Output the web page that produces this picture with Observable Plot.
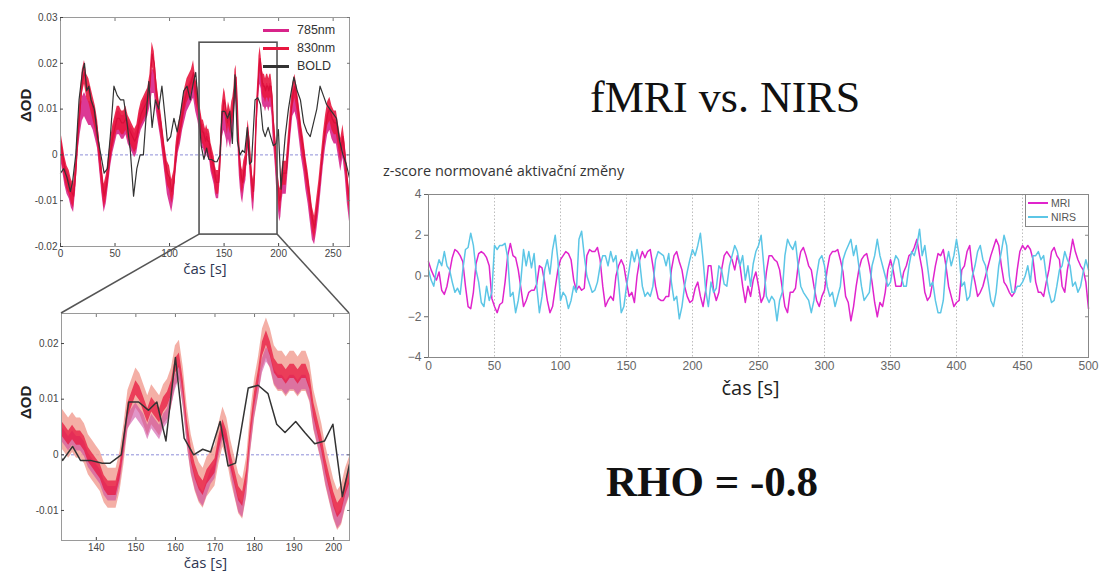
<!DOCTYPE html>
<html><head><meta charset="utf-8">
<script src="https://cdn.jsdelivr.net/npm/d3@7"></script>
<script src="https://cdn.jsdelivr.net/npm/@observablehq/plot@0.6"></script>
<style>
html,body{margin:0;padding:0;background:#fff;}
body{width:1099px;height:576px;position:relative;overflow:hidden;font-family:"Liberation Sans",Arial,sans-serif;}
.abs{position:absolute;}
.leg{position:absolute;display:flex;align-items:center;white-space:nowrap;}
.leg span.sw{display:inline-block;}
</style></head>
<body>
<div id="p1" class="abs" style="left:0;top:0"></div>
<div id="p2" class="abs" style="left:0;top:290px"></div>
<div id="p3" class="abs" style="left:380px;top:185px"></div>
<div class="abs" style="left:590px;top:76px;font-family:'Liberation Serif',serif;font-size:44px;line-height:44px;color:#111;white-space:nowrap">fMRI vs. NIRS</div>
<div class="abs" style="left:383px;top:164px;font-family:'Open Sans',sans-serif;font-size:14.5px;line-height:14.5px;color:#333;white-space:nowrap">z-score normované aktivační změny</div>
<div class="abs" style="left:606px;top:460px;font-family:'Liberation Serif',serif;font-weight:bold;font-size:43px;line-height:43px;color:#111;white-space:nowrap">RHO = -0.8</div>
<div id="leg1"></div>
<div id="leg3"></div>
<svg id="overlay" class="abs" style="left:0;top:0;pointer-events:none" width="1099" height="576"></svg>
<script>
// ---------- data: left charts (NIRS optical density, BOLD) ----------
const nirsTimes = [...d3.range(0, 131, 2), ...d3.range(131, 206, 1), ...d3.range(207, 266, 2)];
const od830 = [
  0.003,0.0,-0.003,-0.005,-0.006,-0.008,-0.009,-0.004,0.004,0.01,
  0.016,0.018,0.015,0.014,0.012,0.01,0.008,0.005,0.0,-0.005,
  -0.009,-0.007,-0.003,0.001,0.004,0.006,0.008,0.008,0.007,0.007,
  0.008,0.006,0.005,0.004,0.003,0.004,0.007,0.009,0.01,0.011,
  0.012,0.015,0.022,0.02,0.014,0.01,0.007,0.003,-0.001,-0.004,
  -0.005,-0.008,-0.006,0.0,0.004,0.006,0.009,0.012,0.014,0.015,
  0.016,0.018,0.014,0.012,0.008,0.005,
  0.005,0.004,0.003,0.004,0.003,0.003,0.002,0.0,-0.001,-0.002,
  -0.003,-0.005,-0.006,-0.006,-0.006,-0.003,0.002,0.008,0.01,0.012,
  0.011,0.009,0.007,0.009,0.008,0.007,0.009,0.01,0.012,0.016,
  0.017,0.012,0.005,0.0,-0.003,-0.005,-0.006,-0.004,-0.003,-0.002,
  0.002,0.005,0.003,-0.001,-0.004,-0.007,-0.008,-0.004,0.004,0.01,
  0.014,0.019,0.021,0.019,0.016,0.015,0.015,0.014,0.015,0.015,
  0.014,0.015,0.015,0.013,0.008,0.005,0.002,-0.002,-0.005,-0.008,
  -0.01,-0.009,-0.006,-0.004,-0.004,
  -0.004,0.002,0.008,0.013,0.015,0.012,0.008,0.004,0.001,-0.003,
  -0.006,-0.01,-0.014,-0.016,-0.012,-0.008,-0.003,0.002,0.006,0.009,
  0.01,0.008,0.007,0.007,0.004,0.001,0.004,0.0,-0.006,-0.01
];
const od785 = [
  0.002,-0.001,-0.004,-0.006,-0.007,-0.009,-0.01,-0.005,0.003,0.007,
  0.01,0.011,0.01,0.009,0.009,0.008,0.006,0.004,-0.001,-0.006,
  -0.01,-0.008,-0.004,0.0,0.003,0.005,0.007,0.007,0.006,0.006,
  0.007,0.005,0.004,0.003,0.002,0.003,0.006,0.008,0.009,0.01,
  0.011,0.013,0.016,0.016,0.012,0.009,0.006,0.002,-0.002,-0.006,
  -0.008,-0.01,-0.007,-0.001,0.003,0.005,0.008,0.01,0.012,0.013,
  0.014,0.015,0.012,0.01,0.007,0.004,
  0.004,0.003,0.002,0.003,0.002,0.002,0.001,-0.001,-0.002,-0.003,
  -0.004,-0.006,-0.007,-0.007,-0.007,-0.004,0.001,0.006,0.007,0.008,
  0.007,0.006,0.004,0.006,0.005,0.004,0.006,0.007,0.01,0.013,
  0.015,0.01,0.003,-0.002,-0.005,-0.007,-0.008,-0.006,-0.004,-0.003,
  0.001,0.004,0.002,-0.002,-0.006,-0.009,-0.01,-0.006,0.002,0.008,
  0.012,0.016,0.018,0.017,0.014,0.013,0.013,0.012,0.013,0.013,
  0.012,0.013,0.013,0.011,0.006,0.003,0.0,-0.004,-0.007,-0.01,
  -0.012,-0.011,-0.008,-0.006,-0.006,
  -0.006,0.0,0.006,0.011,0.012,0.01,0.006,0.002,-0.001,-0.005,
  -0.008,-0.012,-0.016,-0.017,-0.014,-0.01,-0.005,0.0,0.004,0.007,
  0.008,0.006,0.005,0.005,0.002,-0.001,0.002,-0.002,-0.008,-0.012
];
const boldTimes = [0,3,6,9,11,14,17,20,22,24,26,28,31,34,37,40,43,46,49,52,55,58,61,64,67,70,73,76,79,81,84,87,90,93,96,98,101,104,107,110,113,116,119,122,124,127,129,131.5,134,136,138.5,141.5,143.5,146.3,148.2,150.7,153.2,155.3,157.6,160,162.2,164.6,166.9,168.9,171.3,173.3,175.2,178.4,180.9,183.4,185.6,187.7,190.4,192.7,195.2,197.7,199.8,202.2,203.9,206,209,211,214,217,220,223,226,229,232,235,238,241,244,247,250,253,256,259,262,265];
const boldValues = [-0.004,-0.003,-0.005,-0.008,-0.006,0.0,0.012,0.018,0.02,0.014,0.015,0.012,0.01,0.004,0.0,-0.004,-0.003,0.005,0.015,0.013,0.012,0.012,0.007,0.001,-0.009,-0.003,0.0,0.0,0.01,0.016,0.006,0.012,0.01,0.015,0.008,0.003,0.004,0.008,0.005,0.009,0.014,0.015,0.012,0.016,0.018,0.009,0.002,-0.001,0.0015,-0.001,-0.001,-0.0015,-0.0015,0.0,0.0095,0.0095,0.008,0.0095,0.0025,0.0175,0.003,0.0,0.001,0.0005,0.006,-0.002,-0.0015,0.012,0.0125,0.011,0.0055,0.004,0.006,0.004,0.002,0.0025,0.0055,-0.0075,-0.002,0.004,0.01,0.013,0.017,0.014,0.012,0.007,0.005,0.004,0.007,0.01,0.015,0.013,0.011,0.01,0.009,0.008,0.003,0.0,-0.002,-0.005];
const zoomWindow = [{x1: 127.5, x2: 199, y1: -0.0174, y2: 0.0245}];
const topXTicks = [0, 50, 100, 150, 200, 250];
const topYTicks = [-0.02, -0.01, 0, 0.01, 0.02, 0.03];
const zoomXTicks = [140, 150, 160, 170, 180, 190, 200];
const zoomYTicks = [-0.01, 0, 0.01, 0.02];
const legendTop = ["785nm", "830nm", "BOLD"];

// ---------- data: right chart (z-score, 2 s sampling) ----------
const zTimes = d3.range(0, 501, 2);
const mri = [
  0.7,0.3,0.0,-0.2,0.2,-0.7,-0.9,-0.5,0.2,0.9,
  1.3,1.2,1.0,0.7,-0.5,-1.5,-1.6,-0.8,0.6,1.1,
  1.2,1.1,0.9,0.5,-1.1,-1.5,-1.8,-1.4,-1.3,-0.3,
  1.0,1.6,1.0,0.9,0.3,-0.6,-1.5,-1.2,-0.8,-0.7,
  -0.7,-0.4,0.5,0.4,-0.3,-1.2,-1.8,-1.5,-0.6,0.3,
  0.8,1.0,1.2,1.1,0.8,-0.2,-0.7,-0.5,-0.7,-0.6,
  1.0,1.3,1.2,1.2,1.4,0.8,-0.5,-1.5,-1.2,-1.0,
  -1.2,0.0,0.5,0.8,0.5,-0.3,-1.0,-0.8,-1.3,0.0,
  0.8,1.2,0.9,1.2,1.3,0.5,-0.5,-1.1,-1.2,-1.2,
  -1.0,-1.0,0.3,1.0,1.2,0.7,0.3,-0.5,-1.0,-1.3,
  -1.2,-0.6,-0.3,-1.0,-1.5,-0.7,0.5,0.5,-0.7,-1.2,
  -0.8,0.3,1.0,1.2,1.0,0.8,0.3,1.0,0.5,-0.5,
  -1.3,-0.5,-1.0,-0.2,0.2,-0.5,-1.3,-1.0,0.2,1.0,
  1.0,0.8,0.7,0.3,-0.6,-1.5,-1.8,-0.8,-0.8,-0.6,
  0.5,1.2,1.4,1.0,0.5,0.3,-0.5,-1.2,-1.5,-1.0,
  -0.7,0.3,1.0,1.2,1.2,1.3,0.8,0.2,-1.0,-1.3,
  -2.2,-1.5,-0.5,0.3,0.8,1.0,1.1,0.5,-0.3,-1.3,
  -2.0,-1.3,-1.5,-0.8,0.3,0.8,0.3,-0.5,-0.5,-0.5,
  0.2,0.5,1.0,1.1,1.4,1.8,1.0,0.3,-0.8,-1.2,
  -1.0,-0.3,0.5,1.1,1.0,1.3,0.5,-0.5,-1.0,-1.5,
  -1.3,-1.2,0.3,0.5,1.2,1.5,0.3,-0.3,-1.0,-0.8,
  -0.5,0.0,0.5,1.0,1.4,1.8,1.5,0.5,-0.3,-0.5,
  -0.8,-1.0,-0.8,0.3,1.2,1.5,1.3,1.5,1.3,0.8,
  -0.3,-0.8,-0.8,-1.0,-0.3,0.3,1.2,1.4,1.0,0.8,
  -0.5,-0.8,0.3,1.0,1.8,1.2,0.8,0.5,0.3,-0.3,
  -1.6
];
const nirs = [
  0.3,-0.2,-0.5,0.3,0.8,0.5,1.2,0.5,0.3,-0.3,
  -0.8,-0.6,-0.9,0.3,1.3,1.4,2.1,1.5,0.3,-0.3,
  -1.3,-1.5,-0.5,-1.2,-0.8,1.5,1.3,1.5,1.5,1.6,
  0.9,-1.0,-0.8,-1.8,-1.2,-0.2,1.3,0.5,1.2,0.4,
  1.1,-0.5,-1.8,-1.0,0.3,0.8,0.1,1.3,2.0,0.8,
  -1.2,-0.8,-1.0,-1.6,-1.2,-0.5,-0.8,1.8,2.2,1.0,
  0.0,-0.4,-0.8,-0.7,-0.3,0.5,1.0,1.0,0.5,1.2,
  0.7,1.0,-0.3,-1.8,-1.5,-0.5,0.3,1.2,0.7,1.3,
  0.7,-0.5,-1.0,-0.8,-1.0,-0.5,0.8,1.2,1.1,1.0,
  0.5,1.1,-0.3,-1.2,-1.0,-2.1,-1.5,-0.5,0.2,0.8,
  1.3,1.0,1.5,2.1,0.8,-0.7,-1.5,-0.3,-0.8,-0.6,
  0.5,0.3,-0.4,-0.5,0.5,1.0,1.5,1.2,0.5,1.0,
  -0.2,0.5,-0.5,0.6,1.2,1.5,2.0,0.5,-1.0,-1.3,
  -1.0,-1.2,-2.2,-1.2,-0.8,1.0,1.8,1.5,1.3,1.7,
  0.5,-0.5,-0.8,-1.0,-1.2,-1.8,-1.2,0.0,0.8,1.0,
  0.5,-0.5,-1.0,-0.8,-1.5,-1.0,-0.5,0.8,1.2,1.5,
  1.8,1.0,1.5,0.5,-0.5,-1.2,-1.0,-0.8,0.5,1.0,
  1.8,1.0,0.5,0.0,-0.5,-0.3,0.5,1.0,0.8,0.0,
  -0.5,-0.5,0.5,1.2,1.0,1.5,2.3,1.0,1.5,0.5,
  -0.5,-0.3,-1.2,-1.8,-1.8,-1.2,0.5,1.2,0.5,1.0,
  1.8,1.0,-0.5,-0.3,-1.2,-1.0,0.0,0.5,1.2,1.5,
  0.8,0.5,-0.3,-1.2,-1.5,-0.8,0.5,1.2,2.0,1.5,
  0.0,-0.8,-0.8,-0.5,-0.5,-0.3,0.0,0.5,-0.3,1.0,
  1.0,1.2,0.8,1.0,0.0,-0.8,-1.3,-1.2,-0.5,0.3,
  0.5,1.2,0.8,0.5,-0.5,-0.3,-0.8,-0.5,0.2,0.8,
  0.3
];
const rightXTicks = [0, 50, 100, 150, 200, 250, 300, 350, 400, 450, 500];
const rightYTicks = [-4, -2, 0, 2, 4];
const legendRight = ["MRI", "NIRS"];

// ---------- tables ----------
const d830 = nirsTimes.map((t, i) => ({t, v: od830[i]}));
const d785 = nirsTimes.map((t, i) => ({t, v: od785[i]}));
const dBold = boldTimes.map((t, i) => ({t, v: boldValues[i]}));
const dMri = zTimes.map((t, i) => ({t, v: mri[i]}));
const dNirs = zTimes.map((t, i) => ({t, v: nirs[i]}));

const C785 = "#d8248a", C830 = "#e8173f", CBOLD = "#333333";
const CMRI = "#e024cc", CNIRS = "#5cc6e6";
const fmtOD = d => d === 0 ? "0" : d.toFixed(2);
const font = "'Liberation Sans', Arial, sans-serif";

// ---------- top-left chart ----------
const band1 = 0.0026;
const p1 = Plot.plot({
  width: 360, height: 290,
  marginTop: 17, marginLeft: 60, marginRight: 11, marginBottom: 44,
  x: {domain: [0, 265]},
  y: {domain: [-0.02, 0.03]},
  style: {fontFamily: font, overflow: "visible", background: "transparent"},
  marks: [
    Plot.ruleY([0], {stroke: "#8e8ed8", strokeDasharray: "3,2"}),
    Plot.areaY(d785, {x: "t", y1: d => d.v - band1, y2: d => d.v + band1, fill: C785, fillOpacity: 0.9}),
    Plot.areaY(d830, {x: "t", y1: d => d.v - band1, y2: d => d.v + band1, fill: C830, fillOpacity: 0.9}),
    Plot.line(d830, {x: "t", y: "v", stroke: "#d80f3a", strokeWidth: 1.2}),
    Plot.line(dBold, {x: "t", y: "v", stroke: CBOLD, strokeWidth: 1.2}),
    Plot.rect(zoomWindow, {x1: "x1", x2: "x2", y1: "y1", y2: "y2", fill: "none", stroke: "#555", strokeWidth: 1.6}),
    Plot.frame({stroke: "#9a9a9a"}),
    Plot.axisX({ticks: topXTicks, tickSize: -3, tickPadding: 6, fontSize: 10, color: "#444", label: null}),
    Plot.axisX({anchor: "top", ticks: topXTicks, tickSize: -3, tickFormat: () => "", color: "#777", label: null}),
    Plot.axisY({ticks: topYTicks, tickSize: -3, tickPadding: 6, tickFormat: fmtOD, fontSize: 10, color: "#444", label: null}),
    Plot.axisY({anchor: "right", ticks: topYTicks, tickSize: -3, tickFormat: () => "", color: "#777", label: null}),
    Plot.text(["čas [s]"], {text: d => d, frameAnchor: "bottom", dy: 27, fontSize: 15, fill: "#2e3652", fontFamily: "'Open Sans', sans-serif"}),
    Plot.text(["ΔOD"], {text: d => d, frameAnchor: "left", dx: -34, dy: -10, rotate: -90, fontSize: 15, fontWeight: "bold", fill: "#222"})
  ]
});
document.getElementById("p1").append(p1);

// ---------- bottom-left (zoomed) chart ----------
const band2o = 0.0036, band2i = 0.0013;
const p2 = Plot.plot({
  width: 360, height: 286,
  marginTop: 23, marginLeft: 61, marginRight: 11, marginBottom: 36,
  x: {domain: [131.2, 204.0]},
  y: {domain: [-0.0154, 0.0254]},
  clip: true,
  style: {fontFamily: font, overflow: "visible", background: "transparent"},
  marks: [
    Plot.ruleY([0], {stroke: "#8e8ed8", strokeDasharray: "3,2"}),
    Plot.areaY(d830, {x: "t", y1: d => d.v - band2o, y2: d => d.v + band2o, fill: "#f2a196", fillOpacity: 0.85}),
    Plot.areaY(d785, {x: "t", y1: d => d.v - band2i, y2: d => d.v + band2i, fill: "#c8409a", fillOpacity: 0.55}),
    Plot.areaY(d830, {x: "t", y1: d => d.v - band2i, y2: d => d.v + band2i, fill: C830, fillOpacity: 0.75}),
    Plot.line(dBold, {x: "t", y: "v", stroke: CBOLD, strokeWidth: 1.5}),
    Plot.frame({stroke: "#9a9a9a"}),
    Plot.axisX({ticks: zoomXTicks, tickSize: -3, tickPadding: 6, fontSize: 10, color: "#444", label: null}),
    Plot.axisX({anchor: "top", ticks: zoomXTicks, tickSize: -3, tickFormat: () => "", color: "#777", label: null}),
    Plot.axisY({ticks: zoomYTicks, tickSize: -3, tickPadding: 6, tickFormat: fmtOD, fontSize: 10, color: "#444", label: null}),
    Plot.axisY({anchor: "right", ticks: zoomYTicks, tickSize: -3, tickFormat: () => "", color: "#777", label: null}),
    Plot.text(["čas [s]"], {text: d => d, frameAnchor: "bottom", dy: 27, fontSize: 15, fill: "#2e3652", fontFamily: "'Open Sans', sans-serif", clip: false}),
    Plot.text(["ΔOD"], {text: d => d, frameAnchor: "left", dx: -35, dy: -8, rotate: -90, fontSize: 15, fontWeight: "bold", fill: "#222", clip: false})
  ]
});
document.getElementById("p2").append(p2);

// ---------- right chart ----------
const p3 = Plot.plot({
  width: 719, height: 230,
  marginTop: 9, marginLeft: 48, marginRight: 11, marginBottom: 58,
  x: {domain: [0, 500]},
  y: {domain: [-4, 4]},
  style: {fontFamily: font, overflow: "visible", background: "transparent"},
  marks: [
    Plot.ruleX(rightXTicks.slice(1, -1), {stroke: "#bdbdbd", strokeDasharray: "1.5,2"}),
    Plot.line(dMri, {x: "t", y: "v", stroke: CMRI, strokeWidth: 1.5}),
    Plot.line(dNirs, {x: "t", y: "v", stroke: CNIRS, strokeWidth: 1.5}),
    Plot.frame({stroke: "#888"}),
    Plot.axisX({ticks: rightXTicks, tickSize: 0, tickPadding: 4, fontSize: 12, color: "#666", label: null}),
    Plot.axisY({ticks: rightYTicks, tickSize: 4, tickPadding: 3, fontSize: 12, color: "#666", label: null}),
    Plot.axisY({anchor: "right", ticks: rightYTicks, tickSize: -4, tickFormat: () => "", color: "#888", label: null}),
    Plot.text(["čas [s]"], {text: d => d, frameAnchor: "bottom", dy: 37, dx: -8, fontSize: 20, fill: "#222", fontFamily: "'Open Sans', sans-serif"})
  ]
});
document.getElementById("p3").append(p3);

// ---------- legends ----------
const leg1 = document.getElementById("leg1");
[C785, C830, CBOLD].forEach((c, i) => {
  const row = document.createElement("div");
  row.className = "leg";
  row.style.left = "263px"; row.style.top = (22 + i * 18) + "px"; row.style.height = "16px";
  row.innerHTML = `<span class="sw" style="width:26px;height:3px;background:${c}"></span><span style="margin-left:8px;font-size:12.5px;color:#333">${legendTop[i]}</span>`;
  leg1.append(row);
});
const leg3 = document.getElementById("leg3");
const box = document.createElement("div");
box.className = "abs";
Object.assign(box.style, {left: "1025px", top: "194px", width: "62px", height: "31px", border: "1px solid #888", background: "#fff"});
leg3.append(box);
[CMRI, CNIRS].forEach((c, i) => {
  const row = document.createElement("div");
  row.className = "leg";
  row.style.left = "1028px"; row.style.top = (197 + i * 14) + "px"; row.style.height = "12px";
  row.innerHTML = `<span class="sw" style="width:20px;height:1.5px;background:${c}"></span><span style="margin-left:3px;font-size:10.5px;color:#555">${legendRight[i]}</span>`;
  leg3.append(row);
});

// ---------- zoom connectors (from scales) ----------
const sx1 = p1.scale("x"), sy1 = p1.scale("y"), sx2 = p2.scale("x"), sy2 = p2.scale("y");
const p2Top = 290;
const zx1 = sx1.apply(zoomWindow[0].x1), zx2 = sx1.apply(zoomWindow[0].x2), zy = sy1.apply(zoomWindow[0].y1);
const bx1 = sx2.range[0], bx2 = sx2.range[1], by = p2Top + Math.min(...sy2.range);
const ov = d3.select("#overlay");
[[zx1, zy, bx1, by], [zx2, zy, bx2, by]].forEach(([a, b, c, d]) => {
  ov.append("line").attr("x1", a).attr("y1", b).attr("x2", c).attr("y2", d).attr("stroke", "#555").attr("stroke-width", 1.5);
});
</script>
</body></html>
